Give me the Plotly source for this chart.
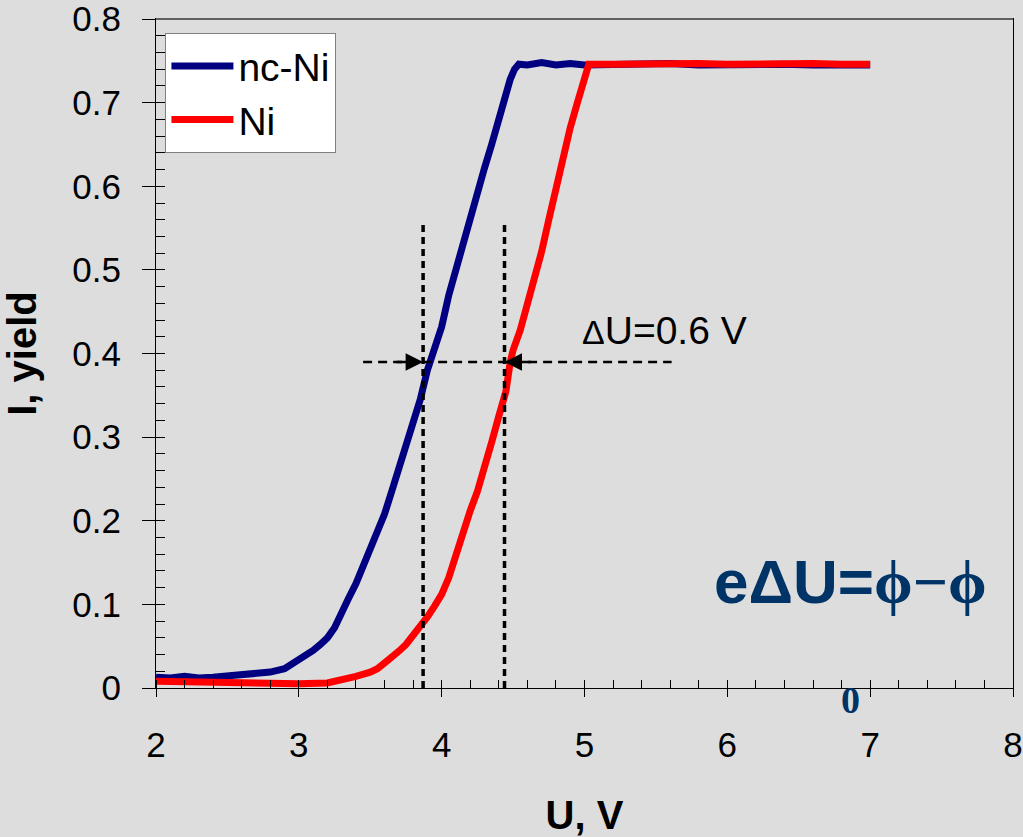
import plotly.graph_objects as go

# nc-Ni series
u_ncni = [2.00, 2.10, 2.20, 2.30, 2.40, 2.50, 2.60, 2.70, 2.80, 2.90, 3.00, 3.05, 3.10, 3.15,
          3.20, 3.25, 3.30, 3.35, 3.40, 3.45, 3.50, 3.55, 3.60, 3.65, 3.70, 3.75, 3.80, 3.85,
          3.90, 3.95, 4.00, 4.05, 4.10, 4.15, 4.20, 4.25, 4.30, 4.35, 4.40, 4.45, 4.48, 4.51,
          4.54, 4.60, 4.70, 4.80, 4.90, 5.00, 5.20, 5.40, 5.60, 5.80, 6.00, 6.20, 6.40, 6.60,
          6.80, 7.00]
i_ncni = [0.013, 0.012, 0.014, 0.012, 0.013, 0.014, 0.015, 0.016, 0.019, 0.023, 0.033, 0.038,
          0.045, 0.052, 0.060, 0.072, 0.088, 0.108, 0.125, 0.145, 0.168, 0.190, 0.208, 0.235,
          0.262, 0.290, 0.318, 0.345, 0.380, 0.405, 0.432, 0.470, 0.502, 0.530, 0.560, 0.592,
          0.622, 0.650, 0.683, 0.712, 0.728, 0.740, 0.746, 0.745, 0.748, 0.745, 0.747, 0.745,
          0.746, 0.745, 0.747, 0.745, 0.746, 0.745, 0.746, 0.745, 0.746, 0.745]

# Ni series
u_ni = [2.00, 2.20, 2.40, 2.60, 2.80, 3.00, 3.20, 3.30, 3.40, 3.50, 3.55, 3.60, 3.65, 3.70,
        3.75, 3.80, 3.85, 3.90, 3.95, 4.00, 4.05, 4.10, 4.15, 4.20, 4.25, 4.30, 4.35, 4.40,
        4.45, 4.48, 4.50, 4.55, 4.60, 4.65, 4.70, 4.75, 4.80, 4.85, 4.90, 4.95, 5.00, 5.03,
        5.20, 5.40, 5.60, 5.80, 6.00, 6.20, 6.40, 6.60, 6.80, 7.00]
i_ni = [0.008, 0.007, 0.006, 0.006, 0.005, 0.005, 0.006, 0.009, 0.014, 0.019, 0.023, 0.030,
        0.036, 0.044, 0.052, 0.062, 0.074, 0.085, 0.098, 0.112, 0.132, 0.160, 0.188, 0.212,
        0.235, 0.262, 0.294, 0.325, 0.355, 0.390, 0.404, 0.428, 0.458, 0.490, 0.522, 0.560,
        0.598, 0.635, 0.670, 0.700, 0.727, 0.746, 0.746, 0.747, 0.746, 0.747, 0.746, 0.747,
        0.746, 0.747, 0.746, 0.746]

# markers of the shift
u_half = [3.87, 4.44]
i_level = 0.39
i_vtop = 0.555
h_range = [3.45, 5.61]

FONT = "Arial, Liberation Sans, sans-serif"
SERIF = "Liberation Serif, Times New Roman, serif"
BG = "#dddddd"

fig = go.Figure()
fig.add_trace(go.Scatter(x=u_ncni, y=i_ncni, mode="lines", name="nc-Ni",
                         line=dict(color="#000080", width=7)))
fig.add_trace(go.Scatter(x=u_ni, y=i_ni, mode="lines", name="Ni",
                         line=dict(color="#ff0000", width=7)))

shapes = []
for u in u_half:
    shapes.append(dict(type="line", xref="x", yref="y", x0=u, x1=u, y0=0, y1=i_vtop,
                       line=dict(color="black", width=3.5, dash="7px,5px")))
shapes.append(dict(type="line", xref="x", yref="y", x0=h_range[0], x1=h_range[1],
                   y0=i_level, y1=i_level, line=dict(color="black", width=2.5, dash="9px,6px")))
# top frame line in grey
shapes.append(dict(type="line", xref="paper", yref="paper", x0=0, x1=1, y0=1, y1=1,
                   line=dict(color="#606060", width=2)))

annotations = [
    dict(x=u_half[0], y=i_level, xref="x", yref="y", ax=-28, ay=0, showarrow=True,
         arrowhead=2, arrowsize=1.4, arrowwidth=2.5, arrowcolor="black", text=""),
    dict(x=u_half[1], y=i_level, xref="x", yref="y", ax=28, ay=0, showarrow=True,
         arrowhead=2, arrowsize=1.4, arrowwidth=2.5, arrowcolor="black", text=""),
    dict(x=4.97, y=0.427, xref="x", yref="y", xanchor="left", yanchor="middle", showarrow=False,
         text="<span style='font-size:34px'>Δ</span>U=0.6 V",
         font=dict(family=FONT, size=39, color="black")),
    dict(x=6.86, y=0.127, xref="x", yref="y", xanchor="center", yanchor="middle", showarrow=False,
         text="<b>eΔU=</b><b><span style='font-family:" + SERIF + "'>ϕ−ϕ</span></b>",
         font=dict(family=FONT, size=62, color="#003366")),
    dict(x=0.81, y=-0.018, xref="paper", yref="paper", xanchor="center", yanchor="middle",
         showarrow=False, text="<b>0</b>",
         font=dict(family=SERIF, size=38, color="#003366")),
]

fig.update_layout(
    width=1023, height=837,
    paper_bgcolor=BG, plot_bgcolor=BG,
    margin=dict(l=156, r=10, t=19, b=149),
    font=dict(family=FONT, color="black"),
    showlegend=True,
    legend=dict(x=0.011, y=0.979, xanchor="left", yanchor="top",
                bgcolor="white", bordercolor="#808080", borderwidth=1,
                font=dict(family=FONT, size=39, color="black"),
                itemwidth=62, tracegroupgap=0),
    shapes=shapes,
    annotations=annotations,
)

fig.update_xaxes(range=[2, 8], dtick=1, tick0=2, showgrid=False, zeroline=False,
                 showline=True, linecolor="black", linewidth=1, mirror=True, automargin=False,
                 ticks="outside", ticklen=8, tickcolor="black", tickwidth=1,
                 ticklabelstandoff=18, ticklabeloverflow="allow",
                 tickfont=dict(family=FONT, size=35),
                 minor=dict(ticks="inside", dtick=0.2, ticklen=8, tickcolor="black", tickwidth=1),
                 title=dict(text="<b>U, V</b>", font=dict(family=FONT, size=40), standoff=40))
fig.update_yaxes(range=[0, 0.8001], dtick=0.1, tick0=0, showgrid=False, zeroline=False,
                 showline=True, linecolor="black", linewidth=1, mirror=True, automargin=False,
                 ticks="outside", ticklen=13, tickcolor="black", tickwidth=1,
                 ticklabelstandoff=14, ticklabeloverflow="allow",
                 tickfont=dict(family=FONT, size=35),
                 minor=dict(ticks="inside", dtick=0.02, ticklen=9, tickcolor="black", tickwidth=1),
                 title=dict(text="<b>I, yield</b>", font=dict(family=FONT, size=40), standoff=30))

fig.write_html("out.html")
